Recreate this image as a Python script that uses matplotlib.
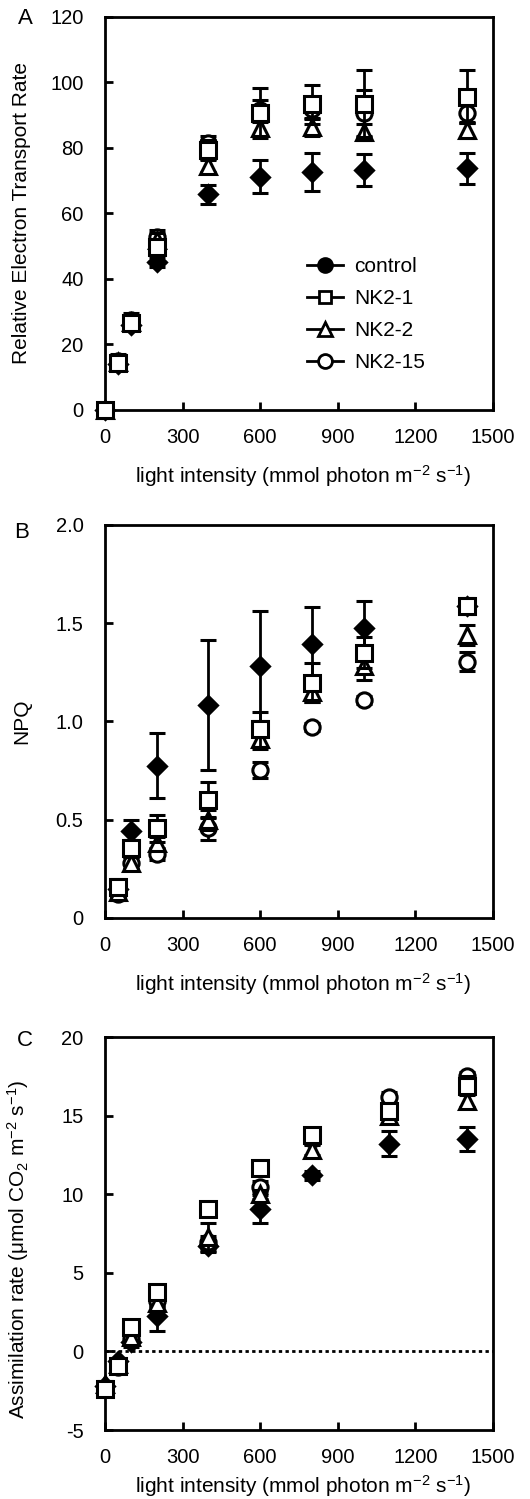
import numpy as np
import matplotlib
matplotlib.use("Agg")
import matplotlib.pyplot as plt
from matplotlib.lines import Line2D

plt.rcParams['font.family'] = ['Liberation Sans', 'DejaVu Sans']
plt.rcParams['mathtext.fontset'] = 'custom'
plt.rcParams['mathtext.rm'] = 'Liberation Sans'
plt.rcParams['mathtext.it'] = 'Liberation Sans:italic'
plt.rcParams['font.size'] = 15

# ---- panel A: relative electron transport rate ----
x_A = [0, 50, 100, 200, 400, 600, 800, 1000, 1400]
ctrl_A = [0, 14, 26, 45.2, 65.8, 71.2, 72.6, 73.3, 73.8]
ctrl_A_err = [0, 1, 1, 1.5, 2.8, 5, 5.8, 5, 4.8]
nk1_A = [0, 14.3, 26.5, 49.7, 79.4, 90.6, 93.3, 93.5, 95.7]
nk1_A_err = [0, 2, 2, 2, 3, 7.6, 6, 10.3, 8]
nk2_A = [0, 14.5, 27, 52, 74.6, 86, 86.3, 84.8, 85.5]
nk2_A_err = [0, 1.5, 1.5, 2, 2, 2, 2.5, 2.5, 2.5]
nk15_A = [0, 15, 27.5, 52.8, 81.5, 91.5, 92, 90.8, 90.6]
nk15_A_err = [0, 2, 2, 2, 2, 3, 3, 7, 3]

# ---- panel B: NPQ ----
x_B = [50, 100, 200, 400, 600, 800, 1000, 1400]
ctrl_B = [0.15, 0.443, 0.775, 1.084, 1.284, 1.393, 1.474, 1.59]
ctrl_B_err = [0.03, 0.055, 0.165, 0.33, 0.28, 0.19, 0.14, 0.03]
nk1_B = [0.156, 0.355, 0.456, 0.60, 0.96, 1.197, 1.35, 1.588]
nk1_B_err = [0.04, 0.04, 0.07, 0.09, 0.09, 0.1, 0.08, 0.04]
nk2_B = [0.13, 0.278, 0.38, 0.5, 0.91, 1.15, 1.28, 1.44]
nk2_B_err = [0.03, 0.03, 0.03, 0.05, 0.05, 0.05, 0.07, 0.05]
nk15_B = [0.12, 0.28, 0.326, 0.456, 0.753, 0.974, 1.11, 1.305]
nk15_B_err = [0.03, 0.03, 0.03, 0.06, 0.04, 0.02, 0.02, 0.05]

# ---- panel C: assimilation rate ----
x_C = [0, 50, 100, 200, 400, 600, 800, 1100, 1400]
ctrl_C = [-2.2, -0.6, 0.6, 2.27, 6.7, 9.06, 11.2, 13.2, 13.5]
ctrl_C_err = [0.2, 0.2, 0.3, 1.0, 0.4, 0.9, 0.3, 0.8, 0.75]
nk1_C = [-2.4, -0.9, 1.54, 3.8, 9.06, 11.65, 13.75, 15.3, 16.9]
nk1_C_err = [0.2, 0.2, 0.2, 0.3, 0.3, 0.3, 0.3, 0.5, 0.6]
nk2_C = [-2.1, -0.8, 0.9, 3.1, 7.3, 10.0, 12.8, 15.0, 15.96]
nk2_C_err = [0.2, 0.2, 0.2, 0.3, 0.9, 0.3, 0.3, 0.5, 0.4]
nk15_C = [-2.3, -1.0, 0.8, 3.2, 6.95, 10.45, 13.5, 16.2, 17.5]
nk15_C_err = [0.2, 0.2, 0.2, 0.3, 0.4, 0.4, 0.3, 0.3, 0.3]

x_ticks = [0, 300, 600, 900, 1200, 1500]
yticks_A = [0, 20, 40, 60, 80, 100, 120]
yticks_B = [0, 0.5, 1.0, 1.5, 2.0]
ylabels_B = ["0", "0.5", "1.0", "1.5", "2.0"]
yticks_C = [-5, 0, 5, 10, 15, 20]
ylabels_C = ["-5", "0", "5", "10", "15", "20"]

xlab = r"light intensity (mmol photon m$^{-2}$ s$^{-1}$)"

fig = plt.figure(figsize=(5.30, 14.99), dpi=100)
left, width, height = 0.198, 0.732, 0.2622
axA = fig.add_axes([left, 0.7265, width, height])
axB = fig.add_axes([left, 0.3876, width, height])
axC = fig.add_axes([left, 0.046, width, height])


def draw(ax, x, series):
    # series: list of (y, err, marker, ms, facecolor, zorder)
    for y, err, mk, ms, fc, z in series:
        ax.errorbar(x, y, yerr=err, fmt=mk, ms=ms, mfc=fc, mec='k', mew=2.2,
                    ecolor='k', elinewidth=2, capsize=6, capthick=2.5,
                    zorder=z, clip_on=False)


def style(ax, yt, ylab_text, ylim, xlab_y, ylab_y=0.5):
    ax.set_xlim(0, 1500)
    ax.set_ylim(*ylim)
    ax.set_xticks(x_ticks)
    ax.set_yticks(yt)
    for s in ax.spines.values():
        s.set_linewidth(2)
    ax.tick_params(direction='in', length=6, width=2, top=False, right=False,
                   labelsize=14.5)
    ax.tick_params(axis='y', pad=15.5)
    ax.tick_params(axis='x', pad=13)
    ax.set_xlabel(xlab, fontsize=15)
    ax.xaxis.set_label_coords(0.51, xlab_y)
    ax.set_ylabel(ylab_text, fontsize=15)
    ax.yaxis.set_label_coords(-0.19, ylab_y)


draw(axA, x_A, [(ctrl_A, ctrl_A_err, 'D', 9, 'k', 3),
                (nk15_A, nk15_A_err, 'o', 11, 'w', 4),
                (nk2_A, nk2_A_err, '^', 11, 'w', 5),
                (nk1_A, nk1_A_err, 's', 11, 'w', 6)])
style(axA, yticks_A, "Relative Electron Transport Rate", (0, 120), -0.135)

handles = [Line2D([], [], color='k', lw=2, marker='o', ms=10, mfc='k', mec='k', mew=2),
           Line2D([], [], color='k', lw=2, marker='s', ms=9, mfc='w', mec='k', mew=2),
           Line2D([], [], color='k', lw=2, marker='^', ms=10, mfc='w', mec='k', mew=2),
           Line2D([], [], color='k', lw=2, marker='o', ms=10, mfc='w', mec='k', mew=2)]
axA.legend(handles, ["control", "NK2-1", "NK2-2", "NK2-15"], loc='upper left',
           bbox_to_anchor=(0.52, 0.388), frameon=False, fontsize=15,
           handlelength=1.75, handletextpad=0.55, labelspacing=0.62,
           borderpad=0, borderaxespad=0)

draw(axB, x_B, [(ctrl_B, ctrl_B_err, 'D', 9, 'k', 3),
                (nk15_B, nk15_B_err, 'o', 11, 'w', 4),
                (nk2_B, nk2_B_err, '^', 11, 'w', 5),
                (nk1_B, nk1_B_err, 's', 11, 'w', 6)])
style(axB, yticks_B, "NPQ", (0, 2.0), -0.135)
axB.set_yticklabels(ylabels_B)

axC.axhline(0, color='k', ls=(0, (1.2, 1.2)), lw=2, zorder=1)
draw(axC, x_C, [(ctrl_C, ctrl_C_err, 'D', 9, 'k', 3),
                (nk15_C, nk15_C_err, 'o', 11, 'w', 4),
                (nk2_C, nk2_C_err, '^', 11, 'w', 5),
                (nk1_C, nk1_C_err, 's', 11, 'w', 6)])
style(axC, yticks_C, "Assimilation rate (μmol CO$_2$ m$^{-2}$ s$^{-1}$)", (-5, 20),
      -0.11, 0.46)
axC.set_yticklabels(ylabels_C)

fig.text(25 / 530, 1 - 18 / 1499, "A", fontsize=16, ha='center', va='center')
fig.text(22 / 530, 1 - 532 / 1499, "B", fontsize=16, ha='center', va='center')
fig.text(25 / 530, 1 - 1040 / 1499, "C", fontsize=16, ha='center', va='center')

fig.savefig("out.png", dpi=100)
